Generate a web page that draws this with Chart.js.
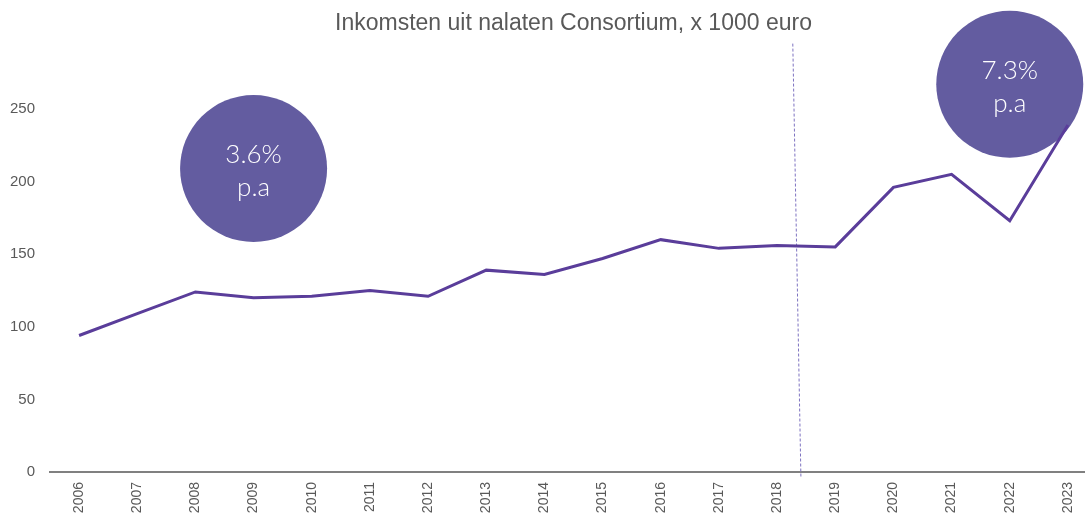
<!DOCTYPE html>
<html>
<head>
<meta charset="utf-8">
<script src="https://cdn.jsdelivr.net/npm/chart.js@4"></script>
<style>
  html, body { margin: 0; padding: 0; background: #fff; overflow: hidden; }
  #wrap { width: 1100px; height: 518px; }
</style>
</head>
<body>
<div id="wrap"><canvas id="chart"></canvas></div>
<script>
// Chart data
const years = ['2006', '2007', '2008', '2009', '2010', '2011', '2012', '2013', '2014',
               '2015', '2016', '2017', '2018', '2019', '2020', '2021', '2022', '2023'];
const income = [94, 109, 124, 120, 121, 125, 121, 139, 136, 147, 160, 154, 156, 155, 196, 205, 173, 239];
const yTicks = [0, 50, 100, 150, 200, 250];

// Growth bubbles (label, year it sits on, value it sits at)
const growthLabels = ['3.6%', '7.3%'];
const growthYears = ['2009', '2022'];
const growthValues = [209, 267];

// Dashed divider between 2018 and 2019 (category index at top / bottom)
const dividerIndex = [12.27, 12.41];

const TEXT = '#595959';
const LINE = '#5a3d9a';
const BUBBLE = '#635ca0';
const FONT = '"Liberation Sans", Arial, sans-serif';

// Draws the growth bubbles and the dashed divider
const overlays = {
    id: 'overlays',
    beforeDatasetsDraw(chart) {
        const ctx = chart.ctx;
        const x = chart.scales.x;
        const y = chart.scales.y;
        const area = chart.chartArea;

        // dashed divider
        ctx.save();
        ctx.strokeStyle = '#7d72c0';
        ctx.lineWidth = 1;
        ctx.setLineDash([3, 2]);
        ctx.beginPath();
        ctx.moveTo(x.getPixelForValue(dividerIndex[0]), area.top);
        ctx.lineTo(x.getPixelForValue(dividerIndex[1]), area.bottom + 6);
        ctx.stroke();
        ctx.restore();

        // bubbles
        growthLabels.forEach((label, i) => {
            const cx = x.getPixelForValue(years.indexOf(growthYears[i]));
            const cy = y.getPixelForValue(growthValues[i]);
            ctx.save();
            ctx.fillStyle = BUBBLE;
            ctx.beginPath();
            ctx.arc(cx, cy, 73.5, 0, Math.PI * 2);
            ctx.fill();
            ctx.fillStyle = '#ffffff';
            ctx.font = '300 26px Lato, "Open Sans", sans-serif';
            ctx.textAlign = 'center';
            ctx.textBaseline = 'alphabetic';
            ctx.fillText(label, cx, cy - 5);
            ctx.fillText('p.a', cx, cy + 28);
            ctx.restore();
        });
    }
};

const ctx = document.getElementById('chart').getContext('2d');
new Chart(ctx, {
    type: 'line',
    data: {
        labels: years,
        datasets: [{
            label: 'Inkomsten',
            data: income,
            borderColor: LINE,
            borderWidth: 3,
            pointRadius: 0,
            tension: 0,
            fill: false
        }]
    },
    options: {
        responsive: true,
        maintainAspectRatio: false,
        animation: false,
        layout: { padding: { left: 0, right: 3, top: 0, bottom: 0 } },
        plugins: {
            legend: { display: false },
            tooltip: { enabled: false },
            title: {
                display: true,
                fullSize: false,
                text: 'Inkomsten uit nalaten Consortium, x 1000 euro',
                color: TEXT,
                font: { family: FONT, size: 23, weight: 'normal' },
                padding: { top: 10, bottom: 6 }
            }
        },
        scales: {
            x: {
                offset: true,
                afterFit: (scale) => { scale.height = 46; },
                grid: { display: false },
                border: { display: true, color: '#808080', width: 2 },
                ticks: {
                    color: TEXT,
                    font: { family: FONT, size: 14 },
                    minRotation: 90,
                    maxRotation: 90,
                    padding: 2,
                    autoSkip: false
                }
            },
            y: {
                min: 0,
                max: 295,
                afterBuildTicks: (scale) => {
                    scale.ticks = yTicks.map(v => ({ value: v }));
                },
                afterFit: (scale) => { scale.width = 50; },
                grid: { display: false },
                border: { display: false },
                ticks: {
                    color: TEXT,
                    font: { family: FONT, size: 15 },
                    padding: 7
                }
            }
        }
    },
    plugins: [overlays]
});
</script>
</body>
</html>
